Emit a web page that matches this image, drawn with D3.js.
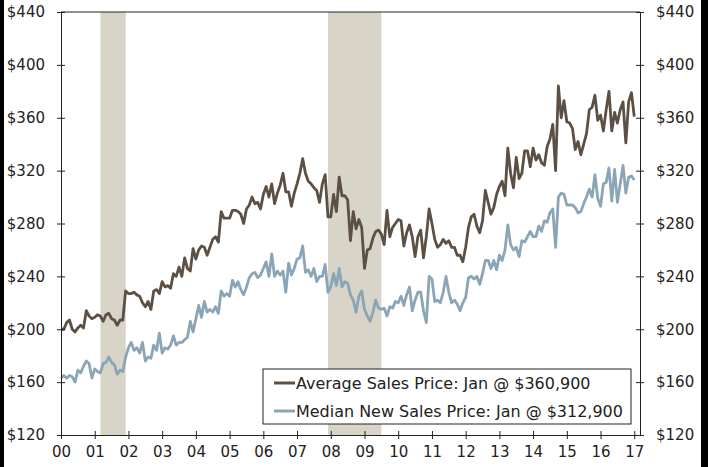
<!DOCTYPE html>
<html>
<head>
<meta charset="utf-8">
<script src="https://cdn.jsdelivr.net/npm/d3@7"></script>
<style>
  body { margin: 0; background: #fff; }
  text { font-family: "DejaVu Sans", Verdana, sans-serif; fill: #222; }
</style>
</head>
<body>
<div id="chart"></div>
<script>
// monthly series, Jan 2000 .. Jan 2017, thousands of dollars
var startYear = 2000;

var avgPrice = [
  200, 200, 205, 207, 200, 198, 201, 203, 201, 214, 210, 208,  // 2000
  209, 211, 210, 206, 211, 212, 208, 207, 203, 207, 207, 229,  // 2001
  227, 227, 228, 226, 225, 220, 217, 221, 215, 229, 230, 227,  // 2002
  236, 232, 233, 231, 242, 240, 247, 240, 254, 246, 244, 261,  // 2003
  253, 260, 263, 262, 256, 262, 268, 270, 266, 289, 284, 284,  // 2004
  284, 290, 290, 289, 287, 280, 291, 294, 300, 295, 296, 291,  // 2005
  302, 308, 300, 310, 295, 303, 309, 318, 304, 304, 293, 303,  // 2006
  310, 318, 329, 318, 312, 310, 307, 305, 296, 310, 317, 285,  // 2007
  285, 302, 289, 315, 301, 301, 298, 267, 289, 276, 283, 277,  // 2008
  246, 260, 261, 269, 274, 275, 272, 264, 290, 270, 277, 280,  // 2009
  283, 282, 263, 273, 279, 270, 255, 270, 275, 254, 270, 291,  // 2010
  280, 268, 262, 264, 268, 265, 267, 262, 262, 256, 256, 251,  // 2011
  262, 277, 285, 287, 278, 273, 282, 305, 296, 287, 292, 302,  // 2012
  308, 312, 301, 337, 318, 307, 330, 314, 318, 335, 335, 323,  // 2013
  337, 328, 332, 326, 324, 338, 344, 355, 320, 384, 360, 373,  // 2014
  357, 356, 352, 336, 342, 332, 340, 348, 366, 368, 377, 358,  // 2015
  362, 350, 366, 380, 350, 364, 356, 366, 372, 341, 372, 379,  // 2016
  360.9                                                        // 2017
];

var medianPrice = [
  163, 165, 163, 165, 164, 160, 169, 167, 172, 176, 174, 163,  // 2000
  170, 168, 167, 174, 175, 179, 175, 173, 166, 169, 168, 179,  // 2001
  186, 190, 184, 186, 182, 190, 176, 179, 178, 188, 184, 197,  // 2002
  182, 186, 185, 188, 195, 188, 190, 190, 192, 194, 206, 198,  // 2003
  208, 218, 209, 221, 213, 215, 213, 217, 212, 229, 225, 227,  // 2004
  225, 237, 232, 236, 230, 226, 232, 239, 242, 243, 239, 241,  // 2005
  246, 251, 240, 257, 240, 244, 241, 244, 228, 250, 241, 246,  // 2006
  253, 254, 263, 243, 245, 240, 246, 236, 240, 240, 249, 228,  // 2007
  232, 242, 233, 246, 232, 236, 235, 226, 222, 213, 225, 229,  // 2008
  215, 210, 206, 213, 222, 216, 215, 216, 210, 217, 216, 221,  // 2009
  220, 225, 218, 226, 232, 214, 222, 228, 228, 214, 205, 240,  // 2010
  238, 221, 222, 220, 228, 240, 228, 220, 222, 219, 214, 220,  // 2011
  224, 239, 240, 238, 240, 234, 242, 252, 252, 246, 252, 245,  // 2012
  256, 252, 260, 279, 264, 260, 262, 255, 267, 266, 270, 274,  // 2013
  270, 270, 278, 274, 282, 281, 288, 291, 262, 300, 303, 302,  // 2014
  294, 294, 294, 292, 288, 289, 295, 300, 306, 300, 317, 299,  // 2015
  293, 310, 311, 322, 297, 321, 296, 310, 324, 303, 315, 316,  // 2016
  312.9                                                        // 2017
];

// recessions (start, end) as decimal years
var recessions = [[2001.17, 2001.92], [2007.92, 2009.5]];

var yTicks = [120, 160, 200, 240, 280, 320, 360, 400, 440];
var xTickYears = d3.range(2000, 2018);

var seriesNames = [
  "Average Sales Price: Jan @ $360,900",
  "Median New Sales Price: Jan @ $312,900"
];
var seriesColors = ["#5c5045", "#8aa5b6"];

const width = 708, height = 467;
const margin = {top: 12, right: 68, bottom: 32, left: 61};
const plotW = width - margin.left - margin.right;
const plotH = height - margin.top - margin.bottom;

var svg = d3.select('#chart').append('svg')
  .attr('width', width)
  .attr('height', height);

// black side strips of the original image
svg.append('rect').attr('x', 0).attr('y', 0).attr('width', 4).attr('height', height).attr('fill', '#000');
svg.append('rect').attr('x', 701).attr('y', 0).attr('width', 7).attr('height', height).attr('fill', '#000');

var x = d3.scaleLinear()
  .domain([2000, 2017.17])
  .range([0, plotW]);

var y = d3.scaleLinear()
  .domain([120, 440])
  .range([plotH, 0]);

var g = svg.append('g')
  .attr('transform', `translate(${margin.left},${margin.top})`);

// recession bands
g.selectAll('rect.rec').data(recessions).enter()
  .append('rect')
  .attr('class', 'rec')
  .attr('x', d => x(d[0]))
  .attr('y', 0)
  .attr('width', d => x(d[1]) - x(d[0]))
  .attr('height', plotH)
  .attr('fill', '#d8d4c8');

function monthX(i) { return x(startYear + i / 12); }

var line = d3.line()
  .x((d, i) => monthX(i))
  .y(d => y(d));

[medianPrice, avgPrice].forEach(function(s, k) {
  g.append('path')
    .datum(s)
    .attr('fill', 'none')
    .attr('stroke', k === 0 ? seriesColors[1] : seriesColors[0])
    .attr('stroke-width', 2.8)
    .attr('stroke-linejoin', 'round')
    .attr('d', line);
});

// frame top line
g.append('line')
  .attr('x1', 0).attr('x2', plotW)
  .attr('y1', 0).attr('y2', 0)
  .attr('stroke', '#222').attr('stroke-width', 1);

// axes
var leftAxis = d3.axisLeft(y).tickValues(yTicks).tickFormat(d => '$' + d)
  .tickSizeInner(4).tickSizeOuter(0).tickPadding(12);
var rightAxis = d3.axisRight(y).tickValues(yTicks).tickFormat(d => '$' + d)
  .tickSizeInner(4).tickSizeOuter(0).tickPadding(12);
var bottomAxis = d3.axisBottom(x).tickValues(xTickYears)
  .tickFormat(d => String(d % 100).padStart(2, '0'))
  .tickSizeInner(4).tickSizeOuter(0).tickPadding(7);

function styleAxis(sel) {
  sel.select('.domain').attr('stroke', '#222');
  sel.selectAll('.tick line').attr('stroke', '#222');
  sel.selectAll('text').style('font-size', '15px').attr('fill', '#222');
}

g.append('g').call(leftAxis).call(styleAxis)
  .selectAll('.tick line').attr('x2', -4).attr('x1', 4);
g.append('g').attr('transform', `translate(${plotW},0)`).call(rightAxis).call(styleAxis)
  .selectAll('.tick line').attr('x1', -4).attr('x2', 4);
g.append('g').attr('transform', `translate(0,${plotH})`).call(bottomAxis).call(styleAxis)
  .selectAll('.tick line').attr('y1', -4).attr('y2', 4);

// legend
var legend = svg.append('g').attr('transform', 'translate(263,369)');
legend.append('rect')
  .attr('width', 368).attr('height', 55)
  .attr('fill', '#fff').attr('stroke', '#222').attr('stroke-width', 1);

seriesNames.forEach(function(name, i) {
  var row = legend.append('g').attr('transform', `translate(11,${14 + i * 28})`);
  row.append('line')
    .attr('x1', 0).attr('x2', 21)
    .attr('stroke', seriesColors[i]).attr('stroke-width', 3);
  row.append('text')
    .attr('transform', 'translate(22,5.5) scale(1.065,1)')
    .style('font-size', '15px')
    .text(name);
});
</script>
</body>
</html>
